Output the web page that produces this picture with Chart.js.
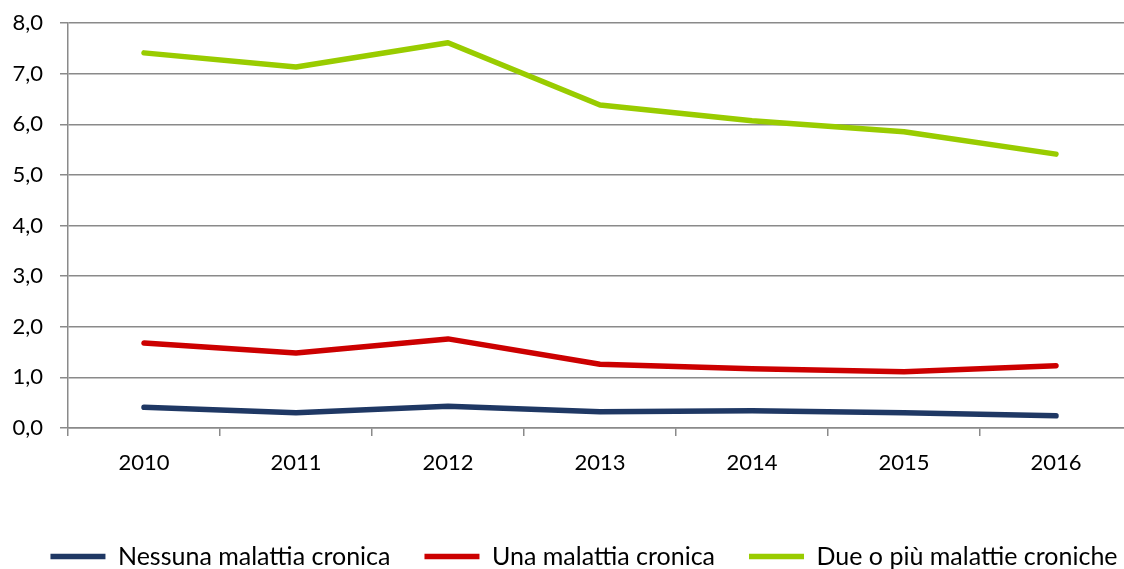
<!DOCTYPE html>
<html>
<head>
<meta charset="utf-8">
<script src="https://cdn.jsdelivr.net/npm/chart.js@4.4.1/dist/chart.umd.min.js"></script>
<style>
  html, body { margin: 0; padding: 0; background: #fff; overflow: hidden; }
  #wrap { width: 1168px; height: 569px; }
</style>
</head>
<body>
<div id="wrap"><canvas id="myChart"></canvas></div>
<script>
"use strict";

var years = ['2010', '2011', '2012', '2013', '2014', '2015', '2016'];
var nessuna = [0.41, 0.30, 0.43, 0.32, 0.34, 0.30, 0.24];
var una = [1.68, 1.48, 1.76, 1.26, 1.17, 1.11, 1.23];
var dueOPiu = [7.41, 7.13, 7.61, 6.38, 6.07, 5.85, 5.41];
var seriesNames = ['Nessuna malattia cronica', 'Una malattia cronica', 'Due o più malattie croniche'];
var seriesColors = ['#1f3864', '#cc0000', '#99cc00'];

var FONT = 'Lato, Calibri, Carlito, sans-serif';
var GRID = '#8a8a8a';

function lineSet(label, values, color) {
    return {
        label: label,
        data: values,
        borderColor: color,
        backgroundColor: color,
        borderWidth: 5.5,
        borderCapStyle: 'round',
        borderJoinStyle: 'round',
        pointRadius: 0,
        pointHoverRadius: 0,
        tension: 0,
        fill: false
    };
}

var ctx = document.getElementById('myChart');
var chart = new Chart(ctx, {
    type: 'line',
    data: {
        labels: years,
        datasets: [
            lineSet(seriesNames[0], nessuna, seriesColors[0]),
            lineSet(seriesNames[1], una, seriesColors[1]),
            lineSet(seriesNames[2], dueOPiu, seriesColors[2])
        ]
    },
    options: {
        responsive: true,
        maintainAspectRatio: false,
        animation: false,
        layout: { padding: { top: 23, right: 0, left: 0, bottom: -10 } },
        plugins: {
            tooltip: { enabled: false },
            legend: {
                position: 'bottom',
                labels: {
                    usePointStyle: true,
                    pointStyle: 'line',
                    pointStyleWidth: 55,
                    padding: 34,
                    color: '#000',
                    font: { family: FONT, size: 25 }
                }
            }
        },
        scales: {
            x: {
                offset: true,
                afterFit: function (scale) { scale.height = 82; },
                grid: {
                    offset: true,
                    drawOnChartArea: false,
                    drawTicks: true,
                    tickLength: 8,
                    color: GRID,
                    lineWidth: 1.5
                },
                border: { color: GRID, width: 1.5 },
                ticks: {
                    color: '#000',
                    padding: 14,
                    font: { family: FONT, size: 22 },
                    maxRotation: 0
                }
            },
            y: {
                min: 0,
                max: 8,
                afterFit: function (scale) {
                    scale.width = 68;
                    scale.paddingTop = 0;
                    scale.paddingBottom = 0;
                },
                grid: {
                    color: GRID,
                    lineWidth: 1.5,
                    tickLength: 8
                },
                border: { color: GRID, width: 1.5 },
                ticks: {
                    stepSize: 1,
                    color: '#000',
                    padding: 17,
                    font: { family: FONT, size: 22 },
                    callback: function (v) { return v.toFixed(1).replace('.', ','); }
                }
            },
            // empty right-hand spacer so the plot ends where the original does
            spacer: {
                type: 'linear',
                position: 'right',
                afterFit: function (scale) {
                    scale.width = 36;
                    scale.paddingTop = 0;
                    scale.paddingBottom = 0;
                },
                grid: { display: false, drawTicks: false },
                border: { display: false },
                ticks: { display: false }
            }
        }
    }
});
</script>
</body>
</html>
